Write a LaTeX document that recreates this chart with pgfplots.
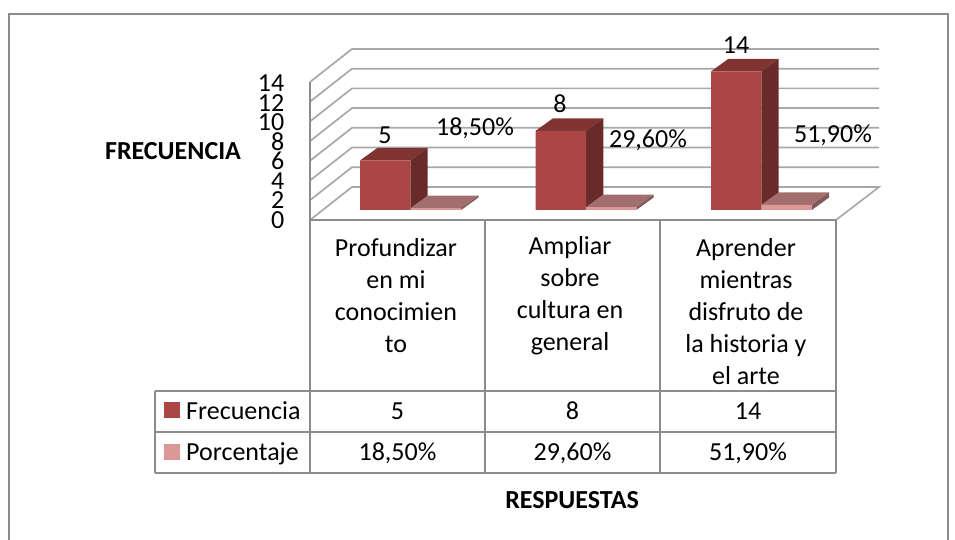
\documentclass[border=0pt]{standalone}
\usepackage{pgfplots}
\pgfplotsset{compat=1.18}
\usepackage{fontspec}
\setmainfont{Carlito}
\definecolor{frontA}{HTML}{AA4643}
\definecolor{topA}{HTML}{7F3432}
\definecolor{sideA}{HTML}{692B29}
\definecolor{frontB}{HTML}{DB9896}
\definecolor{topB}{HTML}{A26F6E}
\definecolor{sideB}{HTML}{7F5A59}
\definecolor{gridc}{HTML}{A8A8A8}
\definecolor{linec}{HTML}{8C8C8C}
\tikzset{lbl/.style={font=\fontsize{26}{32}\selectfont,inner sep=0pt},
  hd/.style={font=\fontsize{26}{30}\selectfont\bfseries,inner sep=0pt},
  cell/.style={lbl,align=center}}
% depth of the 3D bars: 17.3 px right, 12.5 px up (1.263 value units)
\newcommand{\threedbar}[5]{%
  \pgfmathsetmacro{\xa}{#1+17.3}\pgfmathsetmacro{\xb}{#2+17.3}\pgfmathsetmacro{\yb}{#3+1.263}%
  \addplot[fill=#4,draw=none] coordinates {(#1,#3) (#2,#3) (\xb,\yb) (\xa,\yb)} --cycle;
  \addplot[fill=#5,draw=none] coordinates {(#2,0) (\xb,1.263) (\xb,\yb) (#2,#3)} --cycle;
}
\begin{document}
\begin{tikzpicture}
\path[use as bounding box] (0pt,0pt) rectangle (955pt,540pt);
% page furniture in pixel coordinates (y measured from the top)
\begin{axis}[at={(0pt,0pt)},anchor=south west,scale only axis,width=955pt,height=540pt,
  xmin=0,xmax=955,ymin=0,ymax=540,y dir=reverse,hide axis,clip=false]
\addplot[linec,line width=1.2pt] coordinates {(9,540) (9,14) (948,14) (948,540)};
% back wall, side wall and floor
\addplot[gridc,line width=1.7pt,forget plot] coordinates {(310,82) (352,49) (879,49)};
\addplot[gridc,line width=1.7pt,forget plot] coordinates {(310,101.7) (352,68.7) (879,68.7)};
\addplot[gridc,line width=1.7pt,forget plot] coordinates {(310,121.4) (352,88.4) (879,88.4)};
\addplot[gridc,line width=1.7pt,forget plot] coordinates {(310,141.1) (352,108.1) (879,108.1)};
\addplot[gridc,line width=1.7pt,forget plot] coordinates {(310,160.8) (352,127.8) (879,127.8)};
\addplot[gridc,line width=1.7pt,forget plot] coordinates {(310,180.5) (352,147.5) (879,147.5)};
\addplot[gridc,line width=1.7pt,forget plot] coordinates {(310,200.2) (352,167.2) (879,167.2)};
\addplot[gridc,line width=1.7pt,forget plot] coordinates {(310,220) (352,187) (879,187) (836,220)};
% data table
\addplot[linec,line width=1.4pt] coordinates {(310,82) (310,473)};
\addplot[linec,line width=1.4pt] coordinates {(310,220) (836,220)};
\addplot[linec,line width=1.4pt] coordinates {(485,220) (485,473)};
\addplot[linec,line width=1.4pt] coordinates {(660,220) (660,473)};
\addplot[linec,line width=1.4pt] coordinates {(836,220) (836,473)};
\addplot[linec,line width=1.4pt] coordinates {(155,391) (836,391)};
\addplot[linec,line width=1.4pt] coordinates {(155,432) (836,432)};
\addplot[linec,line width=1.4pt] coordinates {(155,473) (836,473)};
\addplot[linec,line width=1.4pt] coordinates {(155,391) (155,473)};
\addplot[only marks,mark=square*,mark size=7.5pt,mark options={draw=frontA,fill=frontA,line width=0pt}] coordinates {(171.5,410)};
\addplot[only marks,mark=square*,mark size=7.5pt,mark options={draw=frontB,fill=frontB,line width=0pt}] coordinates {(171.5,452)};
\node[lbl,anchor=west] at (axis cs:186,411) {Frecuencia};
\node[lbl,anchor=west] at (axis cs:186,454) {Porcentaje};
\node[lbl] at (axis cs:397.5,411) {5};
\node[lbl] at (axis cs:572.5,411) {8};
\node[lbl] at (axis cs:748,411) {14};
\node[lbl] at (axis cs:397.5,453) {18,50\%};
\node[lbl] at (axis cs:572.5,453) {29,60\%};
\node[lbl] at (axis cs:748,453) {51,90\%};
\node[cell] at (axis cs:396,296) {Profundizar\\en mi\\conocimien\\to};
\node[cell] at (axis cs:570,296) {Ampliar\\sobre\\cultura en\\general};
\node[cell] at (axis cs:746,312) {Aprender\\mientras\\disfruto de\\la historia y\\el arte};
\node[hd] at (axis cs:173,151) {FRECUENCIA};
\node[hd] at (axis cs:572,500) {RESPUESTAS};
\node[lbl] at (axis cs:385,135) {5};
\node[lbl] at (axis cs:475,128) {18,50\%};
\node[lbl] at (axis cs:560,104) {8};
\node[lbl] at (axis cs:648,140) {29,60\%};
\node[lbl] at (axis cs:736,45) {14};
\node[lbl] at (axis cs:833,135) {51,90\%};
\end{axis}
% value axis on the front corner of the chart
\begin{axis}[at={(310pt,320pt)},anchor=south west,scale only axis,width=526pt,height=137pt,
  xmin=0,xmax=1,ymin=0,ymax=14,ytick={0,2,...,14},hide x axis,
  axis y line*=left,y axis line style={draw=none},
  major tick length=0pt,
  y tick label style={font=\fontsize{26}{26}\selectfont,inner sep=0pt,anchor=east,xshift=-25.5pt},
  /pgf/number format/assume math mode=true]
\addplot[draw=none] coordinates {(0,0) (1,14)};
\end{axis}
% the bars: x in pixels, y in data values (9.9 px per unit), zero on the floor at y=210
\begin{axis}[at={(0pt,330pt)},anchor=south west,scale only axis,x=1pt,y=9.9pt,
  xmin=0,xmax=955,ymin=0,ymax=16,hide axis,clip=false]
\threedbar{360}{410.3}{5}{topA}{sideA}
\threedbar{410.3}{461.2}{0.185}{topB}{sideB}
\threedbar{535.7}{586}{8}{topA}{sideA}
\threedbar{586}{636.3}{0.296}{topB}{sideB}
\threedbar{711}{761.3}{14}{topA}{sideA}
\threedbar{761.3}{811.8}{0.519}{topB}{sideB}
\addplot[ybar,bar width=50.3pt,bar shift=0pt,fill=frontA,draw=none] coordinates {(385.15,5) (560.85,8) (736.15,14)};
\addplot[ybar,bar width=50.5pt,bar shift=0pt,fill=frontB,draw=none] coordinates {(436,0.185) (611.15,0.296) (786.55,0.519)};
\end{axis}
\end{tikzpicture}
\end{document}
